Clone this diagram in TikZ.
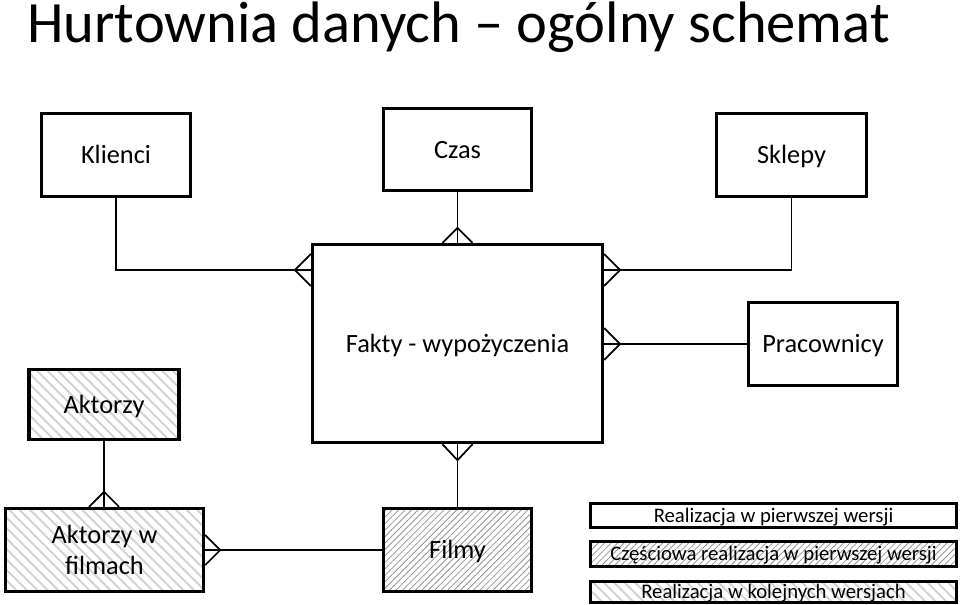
\documentclass[tikz,border=0pt]{standalone}
\usepackage{fontspec}
\setmainfont{Carlito}
\usepackage{tikz}
\usetikzlibrary{calc,patterns.meta}
\tikzset{
    entity/.style={draw=black, line width=2pt, fill=white, inner sep=0pt, align=center,
        text height=12pt, text depth=2pt, font=\fontsize{15}{18}\selectfont},
    legend/.style={draw=black, line width=1.8pt, fill=white, inner sep=0pt, minimum width=7.32cm,
        text height=9.5pt, text depth=2pt, font=\fontsize{11.8}{14}\selectfont},
    partial/.style={pattern={Lines[angle=45,distance=2.6pt,line width=0.45pt]}, pattern color=gray!85},
    later/.style={pattern={Lines[angle=-45,distance=4.2pt,line width=1.1pt]}, pattern color=gray!35},
    link/.style={draw=black, line width=1pt}
}
% crow's foot: edge point, apex offset, prong offset
\newcommand{\crow}[3]{%
  \draw[link] ($(#1)+(#2)$) -- ($(#1)+(#3)$) ($(#1)+(#2)$) -- ($(#1)-(#3)$);}

\begin{document}
\begin{tikzpicture}[x=0.02cm, y=-0.02cm]
  \useasboundingbox (0,0) rectangle (960,605);

  % Title
  \node[anchor=base west, inner sep=0pt, font=\fontsize{33.3}{38}\selectfont] (title) at (27,42)
    {Hurtownia danych -- ogólny schemat};

  % Dimensions and facts
  \node[entity, minimum width=2.98cm, minimum height=1.66cm] (klienci) at (116,155) {Klienci};
  \node[entity, minimum width=2.96cm, minimum height=1.64cm] (czas) at (457.5,149.5) {Czas};
  \node[entity, minimum width=3cm, minimum height=1.66cm] (sklepy) at (791.5,155) {Sklepy};
  \node[entity, minimum width=5.8cm, minimum height=3.96cm] (fakty) at (457.5,343.5) {Fakty - wypożyczenia};
  \node[entity, minimum width=2.98cm, minimum height=1.66cm] (pracownicy) at (823,344) {Pracownicy};
  \node[entity, later, minimum width=3cm, minimum height=1.4cm] (aktorzy) at (104,404.5) {Aktorzy};
  \node[entity, later, text height=, text depth=, font=\fontsize{15}{18}\selectfont,
        minimum width=3.96cm, minimum height=1.66cm] (aktfilm) at (104.5,550) {Aktorzy w\\filmach};
  \node[entity, partial, minimum width=2.96cm, minimum height=1.66cm] (filmy) at (457.5,550) {Filmy};

  % Legend
  \node[legend, minimum height=0.48cm] (leg1) at (773.5,515.5) {Realizacja w pierwszej wersji};
  \node[legend, partial, minimum height=0.5cm] (leg2) at (773.5,554) {Częściowa realizacja w pierwszej wersji};
  \node[legend, later, minimum height=0.42cm] (leg3) at (773.5,592) {Realizacja w kolejnych wersjach};

  % Connectors
  \coordinate (row) at (0,270);
  \draw[link] (klienci.south) |- (fakty.west |- row);
  \crow{fakty.west |- row}{-16,0}{0,16}
  \draw[link] (czas.south) -- (fakty.north);
  \crow{fakty.north}{0,-15}{15,0}
  \draw[link] (sklepy.south) |- (fakty.east |- row);
  \crow{fakty.east |- row}{16,0}{0,16}
  \draw[link] (pracownicy.west) -- (fakty.east |- pracownicy.west);
  \crow{fakty.east |- pracownicy.west}{16,0}{0,16}
  \draw[link] (fakty.south) -- (filmy.north);
  \crow{fakty.south}{0,16}{15,0}
  \draw[link] (aktorzy.south) -- (aktorzy.south |- aktfilm.north);
  \crow{aktorzy.south |- aktfilm.north}{0,-15}{15,0}
  \draw[link] (aktfilm.east) -- (filmy.west);
  \crow{aktfilm.east}{15,0}{0,15}
\end{tikzpicture}
\end{document}
